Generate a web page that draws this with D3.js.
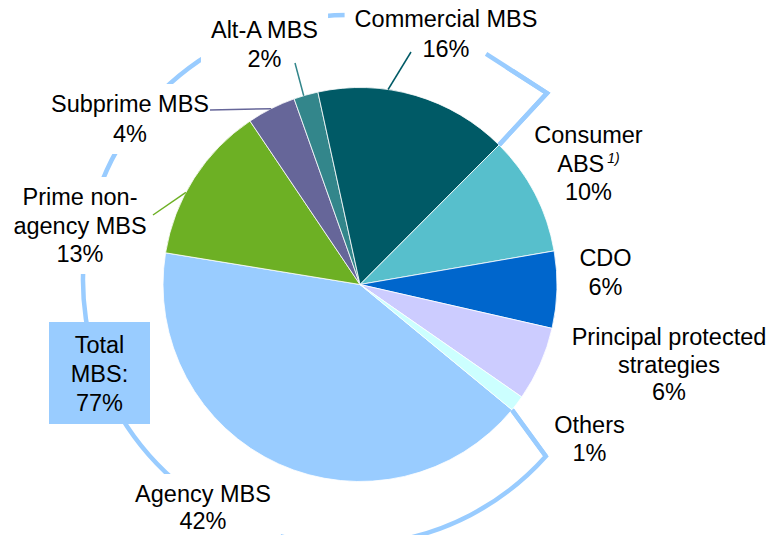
<!DOCTYPE html>
<html>
<head>
<meta charset="utf-8">
<script src="https://cdn.jsdelivr.net/npm/d3@7"></script>
<style>
  html, body { margin: 0; padding: 0; background: #fff; }
  svg { display: block; }
  text { font-family: "Liberation Sans", Arial, sans-serif; font-size: 23.5px; fill: #000; }
</style>
</head>
<body>
<script>
// ---------- data ----------
const categories = ["Agency MBS", "Prime non-agency MBS", "Subprime MBS", "Alt-A MBS",
  "Commercial MBS", "Consumer ABS", "CDO", "Principal protected strategies", "Others"];
const shares = [41.6, 13.0, 4.0, 2.0, 15.9, 9.8, 6.3, 6.1, 1.3];
const labelLines = [["Agency MBS"], ["Prime non-", "agency MBS"], ["Subprime MBS"], ["Alt-A MBS"],
  ["Commercial MBS"], ["Consumer", "ABS"], ["CDO"], ["Principal protected", "strategies"], ["Others"]];
const footnoteMark = "1)";
const totalLines = ["Total", "MBS:"];
const totalMBS = 77;

// ---------- styles / layout ----------
const colors = ["#99ccff", "#6db024", "#666699", "#33868b", "#005a66", "#57bfcc", "#0066cc", "#ccccff", "#ccffff"];
const W = 771, H = 535;
const cx = 360, cy = 284.5, R = 197;
const startDeg = 129.5;
// label centre x, first baseline y, line height, white background, leader [x, y, pie angle deg]
const layout = [
  { x: 203, y: 502, lh: 26.5, bg: true },
  { x: 80, y: 205, lh: 28.5, bg: true, leader: [153, 215, 297.9] },
  { x: 130, y: 112, lh: 30, bg: true, leader: [210, 110, 333.2] },
  { x: 264.5, y: 38, lh: 29, bg: true, leader: [295, 63, 343.4] },
  { x: 446, y: 27, lh: 30, bg: true, leader: [411, 52, 8.2] },
  { x: 588.5, y: 143, lh: 28.5, bg: false },
  { x: 605.5, y: 266, lh: 29, bg: false },
  { x: 669, y: 345, lh: 27.5, bg: false },
  { x: 589.5, y: 433, lh: 28, bg: false }
];
const bracket = { x: 348, y: 280, r: 265, cornerR: 273, cornerDeg: 46.8, arcStartDeg: 31.4, arcEndDeg: 131.7 };
const totalBox = { x: 49, y: 322, w: 101, h: 102, textY: 353, lh: 29 };

const toRad = d => d * Math.PI / 180;
const pt = (x, y, r, rad) => [x + r * Math.sin(rad), y - r * Math.cos(rad)];
const fmt = v => Math.round(v) + "%";

const svg = d3.select("body").append("svg").attr("width", W).attr("height", H);
const bracketG = svg.append("g");
const bgG = svg.append("g");
const pieG = svg.append("g").attr("transform", `translate(${cx},${cy})`);
const textG = svg.append("g");
const topG = svg.append("g");

// ---------- pie ----------
const pie = d3.pie().sort(null).value(d => d)
  .startAngle(toRad(startDeg)).endAngle(toRad(startDeg + 360));
const arcs = pie(shares);
const arc = d3.arc().innerRadius(0).outerRadius(R);

pieG.selectAll("path").data(arcs).join("path")
  .attr("d", arc)
  .attr("fill", (d, i) => colors[i])
  .attr("stroke", "#fff")
  .attr("stroke-width", 0.8);

// ---------- MBS bracket ----------
const p1 = pt(cx, cy, R, arcs[4].endAngle);
const p2 = pt(cx, cy, R, arcs[0].startAngle);
const c1 = pt(bracket.x, bracket.y, bracket.cornerR, toRad(bracket.cornerDeg));
const a0 = pt(bracket.x, bracket.y, bracket.r, toRad(bracket.arcStartDeg));
const a1 = pt(bracket.x, bracket.y, bracket.r, toRad(bracket.arcEndDeg));
const bracketStyle = sel => sel.attr("fill", "none").attr("stroke", "#99ccff")
  .attr("stroke-width", 4.5).attr("stroke-linejoin", "miter");
bracketG.append("path")
  .attr("d", `M${p1}L${c1}L${a0}A${bracket.r},${bracket.r} 0 1 0 ${a1}L${p2}`)
  .call(bracketStyle);

// ---------- labels ----------
categories.forEach((c, i) => {
  const L = layout[i];
  const t = textG.append("text").attr("text-anchor", "middle");
  const lines = labelLines[i];
  let dyAcc = 0;
  lines.forEach((ln, j) => {
    t.append("tspan").attr("x", L.x)
      .attr(j === 0 ? "y" : "dy", j === 0 ? L.y : L.lh + dyAcc).text(ln);
    dyAcc = 0;
    if (c === "Consumer ABS" && j === lines.length - 1) {
      t.append("tspan").attr("dx", 3).attr("dy", -9)
        .style("font-size", "14px").style("font-style", "italic").text(footnoteMark);
      dyAcc = 9;
    }
  });
  t.append("tspan").attr("x", L.x).attr("dy", L.lh + dyAcc).text(fmt(shares[i]));
  if (L.bg) {
    const bb = t.node().getBBox();
    const padX = 10, padY = 7;
    bgG.append("rect")
      .attr("x", bb.x - padX).attr("y", bb.y - padY)
      .attr("width", bb.width + 2 * padX).attr("height", bb.height + 2 * padY)
      .attr("fill", "#fff");
  }
});

// straight ends of the bracket sit above the label boxes
topG.append("path").attr("d", `M${p1}L${c1}L${a0}`).call(bracketStyle);
topG.append("path").attr("d", `M${a1}L${p2}`).call(bracketStyle);

// leader lines
categories.forEach((c, i) => {
  const L = layout[i];
  if (!L.leader) return;
  const e = pt(cx, cy, R, toRad(L.leader[2]));
  topG.append("line")
    .attr("x1", L.leader[0]).attr("y1", L.leader[1])
    .attr("x2", e[0]).attr("y2", e[1])
    .attr("stroke", colors[i]).attr("stroke-width", 1.5);
});

// ---------- Total MBS box ----------
const tb = topG.append("g");
tb.append("rect").attr("x", totalBox.x).attr("y", totalBox.y)
  .attr("width", totalBox.w).attr("height", totalBox.h).attr("fill", "#99ccff");
const tt = tb.append("text").attr("text-anchor", "middle");
[...totalLines, totalMBS + "%"].forEach((ln, j) => {
  tt.append("tspan").attr("x", totalBox.x + totalBox.w / 2)
    .attr("y", totalBox.textY + j * totalBox.lh).text(ln);
});
</script>
</body>
</html>
